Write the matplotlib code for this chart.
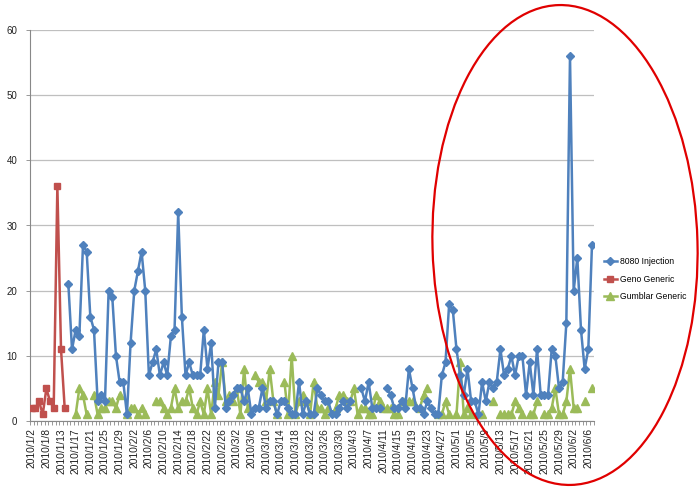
import matplotlib
matplotlib.use("Agg")
import matplotlib.pyplot as plt
import numpy as np
import pandas as pd
from matplotlib.patches import Ellipse

# category labels (text axis, one per day with a few early gaps)
EARLY_DATES = ["2010/1/2", "2010/1/4", "2010/1/5", "2010/1/7", "2010/1/8",
               "2010/1/10", "2010/1/11", "2010/1/12", "2010/1/13"]
LATE_DATES = [f"{d.year}/{d.month}/{d.day}"
              for d in pd.date_range("2010-01-14", "2010-06-07")]
DATES = EARLY_DATES + LATE_DATES
N = len(DATES)

GENO = [2, 2, 3, 1, 5, 3, 2, 36, 11, 2]

INJECTION = [
    21, 11, 14, 13, 27, 26, 16, 14, 3, 4,
    3, 20, 19, 10, 6, 6, 1, 12, 20, 23,
    26, 20, 7, 9, 11, 7, 9, 7, 13, 14,
    32, 16, 7, 9, 7, 7, 7, 14, 8, 12,
    2, 9, 9, 2, 3, 4, 5, 5, 3, 5,
    1, 2, 2, 5, 2, 3, 3, 1, 3, 3,
    2, 1, 1, 6, 1, 3, 1, 1, 5, 4,
    3, 3, 1, 1, 2, 3, 2, 3, None, None,
    5, 3, 6, 2, 2, 2, None, 5, 4, 2,
    2, 3, 2, 8, 5, 2, 2, 1, 3, 2,
    1, 1, 7, 9, 18, 17, 11, 7, 4, 8,
    3, 3, 1, 6, 3, 6, 5, 6, 11, 7,
    8, 10, 7, 10, 10, 4, 9, 4, 11, 4,
    4, 4, 11, 10, 5, 6, 15, 56, 20, 25,
    14, 8, 11, 27,
]

GUMBLAR = [
    1, 5, 4, 1, None, 4, 1, 2, 2, 3,
    3, 2, 4, None, 1, 2, 2, 1, 2, 1,
    None, None, 3, 3, 2, 1, 2, 5, 2, 3,
    3, 5, 2, 1, 3, 1, 5, 1, 6, 4,
    9, 3, 4, 3, 5, 1, 8, 2, None, 7,
    6, 6, 3, 8, 3, 1, None, 6, 1, 10,
    1, 3, 4, 3, 1, 6, 2, 2, 1, 2,
    None, 2, 4, 4, 3, 3, 5, 1, 2, 2,
    1, 1, 4, 3, 2, 2, 2, 1, 1, 3,
    3, 3, 3, None, 2, 4, 5, None, None, 1,
    1, 3, 1, None, 1, 9, 1, 2, 1, None,
    1, 1, None, None, 3, None, 1, 1, 1, 1,
    3, 2, 1, None, 1, 1, 3, None, 1, 1,
    2, 5, 1, 1, 3, 8, 2, 2, None, 3,
    None, 5,
]

SERIES_NAMES = ["8080 Injection", "Geno Generic", "Gumblar Generic"]


def full(vals, start):
    arr = np.full(N, np.nan)
    for i, v in enumerate(vals):
        if v is not None:
            arr[start + i] = v
    return arr


plt.rcParams["font.family"] = ["Liberation Sans", "DejaVu Sans"]

fig = plt.figure(figsize=(6.99, 4.88), dpi=100)
ax = fig.add_axes([29.9 / 699, 67 / 488, 563.9 / 699, 391 / 488])

x = np.arange(N)
l1, = ax.plot(x, full(INJECTION, 10), color="#4F81BD", lw=1.8,
              marker="D", ms=3.6, zorder=3)
l2, = ax.plot(x, full(GENO, 0), color="#C0504D", lw=1.8,
              marker="s", ms=4.8, zorder=3)
l3, = ax.plot(x, full(GUMBLAR, 12), color="#9BBB59", lw=1.8,
              marker="^", ms=5.2, zorder=2)

ax.set_xlim(-0.5, N - 0.5)
ax.set_ylim(0, 60)
ax.set_yticks(range(0, 61, 10))
ax.yaxis.grid(True, color="#BFBFBF", lw=0.9)
ax.set_axisbelow(True)

ax.set_xticks(x[::4])
ax.set_xticklabels(DATES[::4], rotation=90, fontsize=7.4, color="#222222")
ax.set_xticks(np.arange(-0.5, N, 1), minor=True)
ax.tick_params(axis="x", which="major", length=0, pad=5)
ax.tick_params(axis="x", which="minor", length=3, color="#888888", width=0.6)
ax.tick_params(axis="y", length=3, color="#888888", width=0.6,
               labelsize=7, labelcolor="#222222", pad=6)

for side in ["top", "right"]:
    ax.spines[side].set_visible(False)
for side in ["left", "bottom"]:
    ax.spines[side].set_color("#888888")
    ax.spines[side].set_linewidth(0.8)

fig.legend([l1, l2, l3], SERIES_NAMES, loc="center left",
           bbox_to_anchor=(0.861, 0.428), frameon=False, fontsize=6.2,
           handlelength=1.6, handletextpad=0.3, labelspacing=1.0,
           borderaxespad=0, borderpad=0.2)

# red ellipse drawn over the chart
over = fig.add_axes([0, 0, 1, 1], facecolor="none")
over.set_xlim(0, 699)
over.set_ylim(488, 0)
over.axis("off")
over.add_patch(Ellipse((565, 245), 265, 480, angle=-1.5, fill=False,
                       edgecolor="#E00000", lw=1.6))

fig.savefig("out.png", dpi=100)
